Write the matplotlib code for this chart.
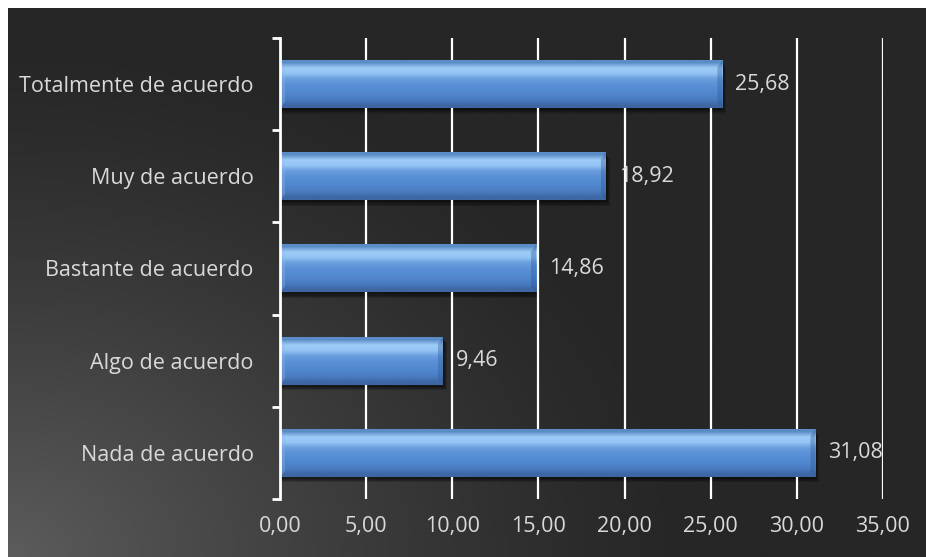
import matplotlib.pyplot as plt
import numpy as np
from matplotlib.patches import Rectangle, Polygon

# data, bottom to top
categories = ["Nada de acuerdo", "Algo de acuerdo", "Bastante de acuerdo",
              "Muy de acuerdo", "Totalmente de acuerdo"]
values = [31.08, 9.46, 14.86, 18.92, 25.68]
xticks = [0, 5, 10, 15, 20, 25, 30, 35]

plt.rcParams['font.family'] = ['Open Sans', 'DejaVu Sans']
txt = '#d9d9d9'
fs = 15.5

fig = plt.figure(figsize=(9.26, 5.57), dpi=100, facecolor='white')

# dark gradient background, lighter towards bottom-left
bg = fig.add_axes([8 / 926, 0, 1 - 8 / 926, 1 - 8 / 557])
bg.set_axis_off()
yy, xx = np.mgrid[0:1:300j, 0:1:500j]
d = np.sqrt((xx / 0.75) ** 2 + ((1 - yy) / 0.95) ** 2)
t = np.clip(1 - d, 0, 1) ** 1.3
dark = np.array([38, 38, 38]) / 255
light = np.array([92, 92, 92]) / 255
img = dark + (light - dark) * t[..., None]
bg.imshow(img, aspect='auto', extent=(0, 1, 0, 1), origin='upper')
bg.set_xlim(0, 1)
bg.set_ylim(0, 1)

ax = fig.add_axes([280 / 926, 1 - 499 / 557, (883 - 280) / 926, (499 - 38) / 557])
ax.patch.set_alpha(0)

y = np.arange(len(categories))
bars = ax.barh(y, values, height=0.52, color='#5a8fd4', zorder=3)

# bar shading: vertical gradient (top row first) + bevelled ends + soft shadow
grad = np.array([[0.36, 0.55, 0.78], [0.62, 0.80, 0.97], [0.58, 0.77, 0.96],
                 [0.42, 0.62, 0.87], [0.36, 0.57, 0.84], [0.33, 0.55, 0.82],
                 [0.31, 0.52, 0.80], [0.29, 0.48, 0.75], [0.24, 0.40, 0.64]])
px = 35 / (883 - 280)
py = 5 / (499 - 38)
for b in bars:
    x0, y0, w, h = b.get_x(), b.get_y(), b.get_width(), b.get_height()
    for k in range(4):
        ax.add_patch(Rectangle((x0 + (1 - k) * px, y0 - (2 + 1.2 * k) * py), w + 2 * k * px, h,
                               color='black', alpha=0.18, lw=0, zorder=2))
    ax.imshow(grad[:, None, :], aspect='auto', extent=(x0, x0 + w, y0, y0 + h),
              origin='upper', zorder=4, interpolation='bilinear')
    e = 5 * px
    ax.add_patch(Polygon([(x0, y0 + h), (x0 + e, y0 + h - 0.15 * h), (x0 + e, y0 + 0.12 * h), (x0, y0)],
                         color='#8fb8ec', alpha=0.35, lw=0, zorder=5))
    ax.add_patch(Polygon([(x0 + w, y0 + h), (x0 + w - e, y0 + h - 0.15 * h), (x0 + w - e, y0 + 0.12 * h), (x0 + w, y0)],
                         color='#2d5590', alpha=0.35, lw=0, zorder=5))
    ax.text(x0 + w + 13 * px, y0 + h / 2, f"{w:.2f}".replace('.', ','),
            va='center', ha='left', color=txt, fontsize=fs, zorder=6)

ax.set_xlim(0, 35)
ax.set_ylim(-0.5, len(categories) - 0.5)
ax.set_xticks(xticks)
ax.set_xticklabels([f"{v:.2f}".replace('.', ',') for v in xticks])
ax.set_yticks(y)
ax.set_yticklabels(categories)
ax.set_yticks(np.arange(len(categories) + 1) - 0.5, minor=True)
ax.tick_params(axis='y', which='major', length=0, pad=19, labelsize=fs, labelcolor=txt)
ax.tick_params(axis='y', which='minor', length=6, width=2, color='white', direction='out')
ax.tick_params(axis='x', length=0, pad=12, labelsize=fs, labelcolor=txt)
ax.grid(axis='x', color='white', lw=1.6, zorder=7)
ax.set_axisbelow(False)
for s in ['top', 'right', 'bottom']:
    ax.spines[s].set_visible(False)
ax.spines['left'].set_color('white')
ax.spines['left'].set_linewidth(2)
ax.spines['left'].set_zorder(8)

fig.savefig('out.png', dpi=100, facecolor='white')
